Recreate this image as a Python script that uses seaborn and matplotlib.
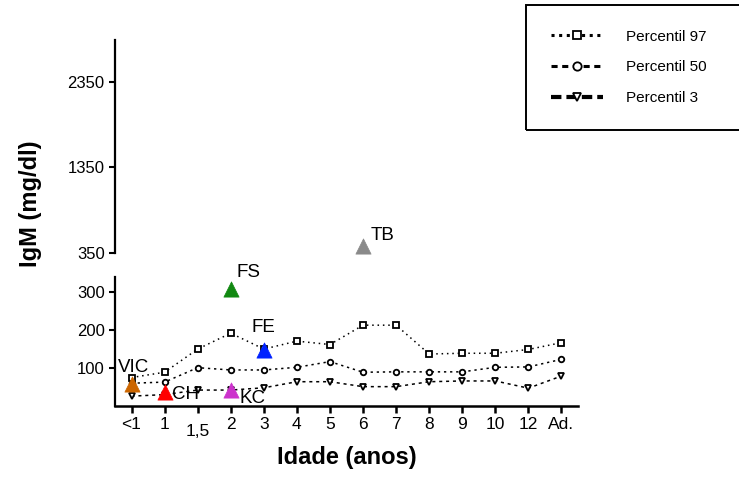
import numpy as np
import pandas as pd
import matplotlib
matplotlib.use("Agg")
import matplotlib.pyplot as plt
import seaborn as sns
from matplotlib.lines import Line2D
from matplotlib.patches import Rectangle

# ---------------- data ----------------
categories = ["<1", "1", "1,5", "2", "3", "4", "5", "6", "7", "8", "9", "10", "12", "Ad."]
p97 = [75, 89, 150, 192, 150, 171, 162, 213, 213, 137, 139, 139, 149, 167]
p50 = [60, 63, 101, 95, 95, 102, 117, 89, 90, 90, 90, 102, 103, 123]
p3 = [26, 30, 42, 42, 48, 64, 64, 51, 51, 64, 66, 66, 47, 79]
series_names = ["Percentil 97", "Percentil 50", "Percentil 3"]

patient_names = ["VIC", "CH", "KC", "FE", "FS", "TB"]
patient_ages = ["<1", "1", "2", "3", "2", "6"]
patient_igm = [58, 38, 41, 147, 308, 430]
patient_colors = ["#cc6600", "#ff0000", "#cc33cc", "#0022ff", "#118811", "#8a8a8a"]

upper_ticks = [350, 1350, 2350]
lower_ticks = [100, 200, 300]
upper_lim = (350, 2840)
lower_lim = (0, 340)

# ---------------- style ----------------
sns.set_style("ticks")
plt.rcParams['font.family'] = ['Liberation Sans', 'DejaVu Sans']
plt.rcParams['text.color'] = 'black'
plt.rcParams['axes.labelcolor'] = 'black'
plt.rcParams['xtick.color'] = 'black'
plt.rcParams['ytick.color'] = 'black'
plt.rcParams['axes.edgecolor'] = 'black'

W, H = 739, 486
fig = plt.figure(figsize=(W / 100, H / 100), dpi=100)
ax_top = fig.add_axes([115 / W, 1 - 253 / H, 463 / W, 213 / H])
ax_low = fig.add_axes([115 / W, 1 - 406 / H, 463 / W, 129 / H])

xpos = np.arange(len(categories))
df = pd.DataFrame({"pos": xpos, "Percentil 97": p97, "Percentil 50": p50, "Percentil 3": p3})

styles = {
    "Percentil 97": dict(marker="s", linestyle=(0, (1, 2.5)), markersize=4),
    "Percentil 50": dict(marker="o", linestyle=(0, (1.5, 2.5)), markersize=4),
    "Percentil 3": dict(marker="v", linestyle=(0, (2, 2.5)), markersize=4.5),
}
for name in series_names:
    st = styles[name]
    sns.lineplot(data=df, x="pos", y=name, ax=ax_low, color="black", linewidth=1.1,
                 marker=st["marker"], linestyle=st["linestyle"], markersize=st["markersize"],
                 markerfacecolor="white", markeredgecolor="black", markeredgewidth=1.3,
                 clip_on=False)

# patients
label_offsets = {"VIC": (-14, 16, "left"), "CH": (7, -3, "left"), "KC": (9, -8, "left"),
                 "FE": (0, 23, "center"), "FS": (6, 17, "left"), "TB": (8, 11, "left")}
for name, age, val, col in zip(patient_names, patient_ages, patient_igm, patient_colors):
    ax = ax_low if val <= lower_lim[1] else ax_top
    xp = categories.index(age)
    sns.scatterplot(x=[xp], y=[val], ax=ax, marker="^", s=120, color=col,
                    edgecolor=col, linewidth=0.5, clip_on=False, zorder=5, legend=False)
    dx, dy, ha = label_offsets[name]
    ax.annotate(name, (xp, val), xytext=(dx * 0.72, dy * 0.72), textcoords="offset points",
                ha=ha, va="center", fontsize=13.5, color="black", zorder=6)

# axes formatting
for ax in (ax_top, ax_low):
    ax.set_xlim(-0.5, len(categories) - 0.5)
    ax.set_ylabel("")
    ax.set_xlabel("")
    for sp in ("top", "right"):
        ax.spines[sp].set_visible(False)
    ax.spines["left"].set_linewidth(1.6)
    ax.tick_params(axis="y", direction="out", length=4.5, width=1.5, pad=3,
                   labelsize=12, colors="black")

ax_top.set_ylim(*upper_lim)
ax_top.set_yticks(upper_ticks)
ax_top.set_yticklabels([str(t) for t in upper_ticks])
ax_top.spines["bottom"].set_visible(False)
ax_top.set_xticks([])

ax_low.set_ylim(*lower_lim)
ax_low.set_yticks(lower_ticks)
ax_low.set_yticklabels([str(t) for t in lower_ticks])
ax_low.spines["bottom"].set_linewidth(1.8)
ax_low.set_xticks(xpos)
ax_low.set_xticklabels(categories)
ax_low.tick_params(axis="x", direction="out", length=5, width=1.8, pad=3,
                   labelsize=12.5, colors="black")
ax_low.get_xaxis().get_major_ticks()[2].set_pad(8)

ax_low.set_xlabel("Idade (anos)", fontsize=17, fontweight="bold", color="black")
ax_low.xaxis.set_label_coords(0.5, -0.31)
fig.text(31 / W, 1 - 204 / H, "IgM (mg/dl)", rotation=90, ha="center", va="center",
         fontsize=17, fontweight="bold", color="black")

# legend
handles = []
leg_styles = {
    "Percentil 97": dict(marker="s", linestyle=(0, (1, 1.5)), lw=2.2),
    "Percentil 50": dict(marker="o", linestyle=(0, (2, 1.5)), lw=2.2),
    "Percentil 3": dict(marker="v", linestyle=(0, (2.5, 1.2)), lw=3),
}
for name in series_names:
    st = leg_styles[name]
    handles.append(Line2D([], [], color="black", linestyle=st["linestyle"], lw=st["lw"],
                          marker=st["marker"], markersize=6, markerfacecolor="white",
                          markeredgecolor="black", markeredgewidth=1.3))
fig.legend(handles, series_names, loc="upper left", bbox_to_anchor=(543 / W, 1 - 22 / H),
           frameon=False, fontsize=11, handlelength=3.4, handletextpad=1.5,
           labelspacing=1.1, borderpad=0)
fig.patches.append(Rectangle((526 / W, 1 - 130 / H), 0.32, 125 / H, transform=fig.transFigure,
                             fill=False, edgecolor="black", linewidth=1.4))

fig.savefig("out.png", dpi=100)
